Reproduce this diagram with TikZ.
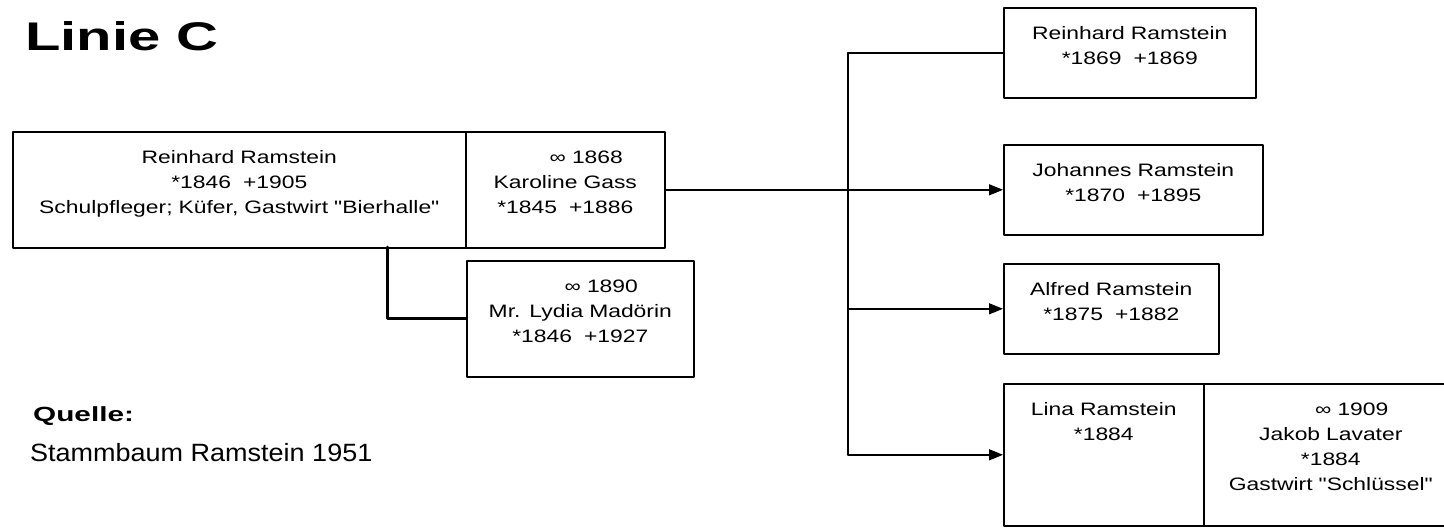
\documentclass[tikz,border=0pt]{standalone}
\usepackage{fontspec}
\setmainfont{Liberation Sans}
\newfontfamily\boxfont{Liberation Sans}[FakeStretch=1.27]
\newfontfamily\headfont{Liberation Sans}[FakeStretch=1.45]
\newfontfamily\notefont{Liberation Sans}[FakeStretch=1.08]
\usetikzlibrary{arrows.meta,calc,positioning}
\tikzset{
  every picture/.append style={line cap=round,line join=round},
  fam box/.style 2 args={draw,line width=1.6pt,inner sep=0pt,anchor=north west,
    align=center,text width=#1,text height=32pt,text depth=#2,
    font=\boxfont\fontsize{18}{25}\selectfont},
  fam link/.style={line width=1.5pt},
  fam arrow/.style={line width=1.5pt,-{Triangle[length=14pt,width=11pt]}},
  fam second/.style={line width=3pt},
  fam title/.style={anchor=base west,inner sep=0pt,font=\headfont\bfseries\fontsize{40}{48}\selectfont},
  fam source/.style={anchor=base west,inner sep=0pt,font=\headfont\bfseries\fontsize{20.5}{24}\selectfont},
  fam note/.style={anchor=base west,inner sep=0pt,font=\notefont\fontsize{25}{30}\selectfont}
}
\newcommand{\wed}[1]{\hspace*{42pt}∞ #1}

\begin{document}
\begin{tikzpicture}[x=1pt,y=-1pt]
  \useasboundingbox[fill=white] (0,0) rectangle (1444,528);
  \node[fam title] (linie) at (25,50) {Linie C};
  % parents
  \node[fam box={453pt}{84pt}] (reinhard) at (12,131)
    {Reinhard Ramstein\\{*}1846~~+1905\\Schulpfleger; Küfer, Gastwirt "Bierhalle"};
  \node[fam box={199pt}{84pt}] (karoline) at (465,131)
    {\wed{1868}\\Karoline Gass\\{*}1845~~+1886};
  \node[fam box={227pt}{84pt}] (lydia) at (466,260)
    {\wed{1890}\\Mr. Lydia Madörin\\{*}1846~~+1927};
  % children
  \node[fam box={252pt}{58pt}] (kid1) at (1003,7) {Reinhard Ramstein\\{*}1869~~+1869};
  \node[fam box={259pt}{58pt}] (johannes) at (1003,144) {Johannes Ramstein\\{*}1870~~+1895};
  \node[fam box={215pt}{58pt}] (alfred) at (1003,263) {Alfred Ramstein\\{*}1875~~+1882};
  \node[fam box={200pt}{110pt}] (lina) at (1003,383) {Lina Ramstein\\{*}1884};
  \node[fam box={254pt}{110pt}] (jakob) at (1203,383)
    {\wed{1909}\\Jakob Lavater\\{*}1884\\Gastwirt "Schlüssel"};
  % links
  \coordinate (second) at (387,247);
  \draw[fam second] (second) |- (lydia.west);
  \coordinate (fork) at (848,189);
  \draw[fam link] (fork |- kid1.west) -- (fork |- lina.west);
  \draw[fam link] (fork |- kid1.west) -- (kid1.west);
  \draw[fam arrow] (karoline.east) -- (johannes.west);
  \foreach \kid in {alfred,lina}
    \draw[fam arrow] (fork |- \kid.west) -- (\kid.west);
  % source
  \node[fam source] (quelle) at (33,421) {Quelle:};
  \node[fam note] (stammbaum) at (30,461) {Stammbaum Ramstein 1951};
\end{tikzpicture}
\end{document}
